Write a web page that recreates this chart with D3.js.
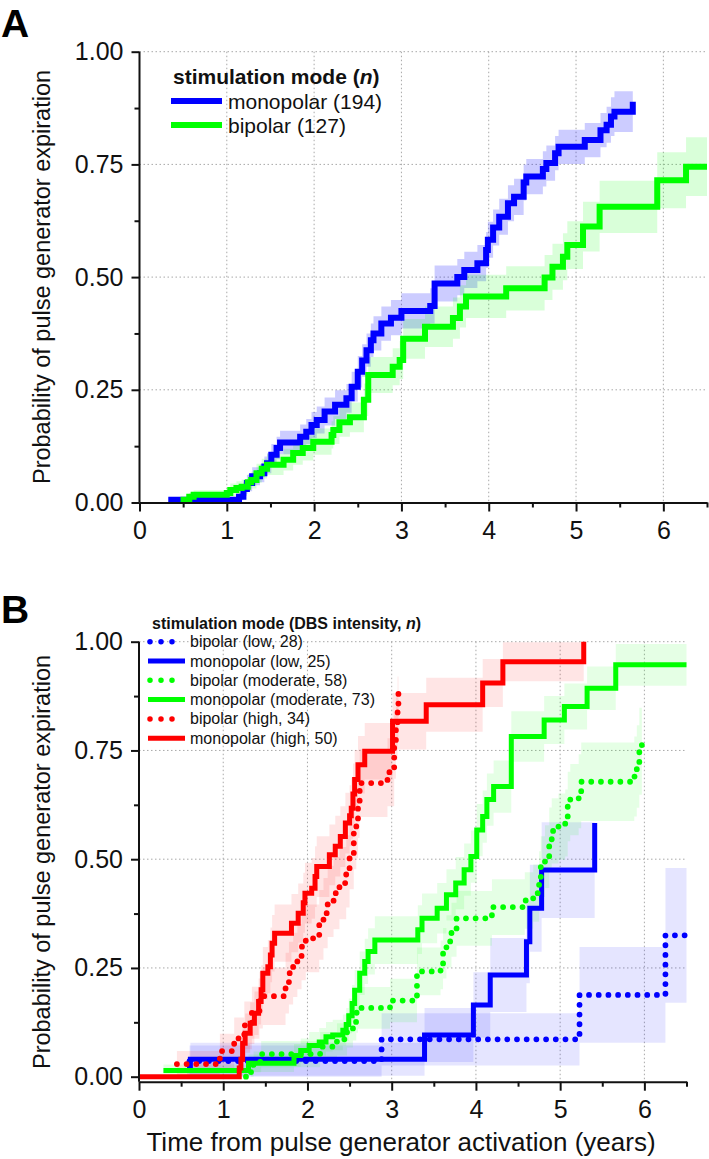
<!DOCTYPE html>
<html><head><meta charset="utf-8">
<script src="https://cdn.jsdelivr.net/npm/d3@7"></script>
<style>
body{margin:0;background:#fff;}
svg{display:block;font-family:"Liberation Sans",Arial,sans-serif;}
</style></head>
<body>
<script>
// ---------- DATA (time in years, probability, half-width of shaded band) ----------
const xTicks = [0,1,2,3,4,5,6];
const xMinorTicks = [0.5,1.5,2.5,3.5,4.5,5.5,6.5];
const yTicks = [0,0.25,0.5,0.75,1.0];
const yMinorTicks = [0.125,0.375,0.625,0.875];

const legendA = ["monopolar (194)","bipolar (127)"];
const legendB = ["bipolar (low, 28)","monopolar (low, 25)","bipolar (moderate, 58)","monopolar (moderate, 73)","bipolar (high, 34)","monopolar (high, 50)"];

const monoA = [[0.33,0.006,0.005],[1.14,0.013,0.008],[1.19,0.03,0.015],[1.23,0.043,0.018],[1.29,0.058,0.02],[1.38,0.065,0.02],[1.43,0.08,0.022],[1.46,0.087,0.022],[1.51,0.106,0.024],[1.57,0.121,0.025],[1.61,0.133,0.026],[1.84,0.146,0.027],[1.91,0.157,0.028],[1.97,0.172,0.029],[2.03,0.183,0.03],[2.12,0.202,0.031],[2.24,0.217,0.032],[2.37,0.231,0.032],[2.43,0.257,0.033],[2.50,0.29,0.035],[2.55,0.315,0.036],[2.60,0.338,0.037],[2.65,0.36,0.037],[2.68,0.375,0.038],[2.77,0.397,0.038],[2.88,0.41,0.039],[3.00,0.425,0.039],[3.33,0.436,0.039],[3.38,0.486,0.04],[3.64,0.50,0.04],[3.72,0.516,0.04],[3.87,0.531,0.04],[3.97,0.56,0.04],[3.99,0.583,0.04],[4.05,0.61,0.04],[4.12,0.634,0.04],[4.22,0.664,0.04],[4.29,0.678,0.04],[4.40,0.71,0.04],[4.43,0.723,0.039],[4.62,0.74,0.039],[4.66,0.753,0.039],[4.76,0.775,0.038],[4.80,0.789,0.038],[5.10,0.804,0.038],[5.28,0.826,0.038],[5.35,0.838,0.04],[5.40,0.856,0.043],[5.44,0.867,0.045],[5.65,0.889,0.045]];
const biA = [[0.47,0.006,0.005],[0.57,0.013,0.008],[0.62,0.017,0.01],[1.00,0.021,0.012],[1.04,0.028,0.014],[1.11,0.032,0.015],[1.17,0.035,0.016],[1.24,0.045,0.018],[1.28,0.05,0.019],[1.34,0.065,0.021],[1.40,0.075,0.022],[1.46,0.084,0.023],[1.65,0.095,0.024],[1.76,0.11,0.026],[1.87,0.121,0.028],[1.99,0.135,0.029],[2.20,0.15,0.03],[2.22,0.161,0.031],[2.29,0.178,0.032],[2.41,0.189,0.033],[2.57,0.228,0.036],[2.62,0.283,0.04],[2.90,0.301,0.041],[2.98,0.316,0.042],[3.02,0.363,0.044],[3.27,0.39,0.045],[3.59,0.409,0.046],[3.67,0.435,0.047],[3.74,0.457,0.048],[4.20,0.475,0.049],[4.64,0.499,0.05],[4.73,0.523,0.051],[4.85,0.545,0.052],[4.90,0.571,0.053],[5.08,0.612,0.055],[5.27,0.656,0.058],[5.93,0.715,0.062],[6.26,0.745,0.065],[6.50,0.745,0.065]];

const biLow = [[0.60,0.036,0.036],[2.88,0.086,0.06],[5.23,0.188,0.11],[6.25,0.325,0.155],[6.50,0.325,0.155]];
const monoLow = [[0.57,0.02,0.02],[0.61,0.04,0.038],[3.39,0.096,0.062],[3.97,0.165,0.075],[4.17,0.234,0.085],[4.60,0.31,0.095],[4.64,0.387,0.1],[4.78,0.475,0.11],[5.41,0.583,0.12]];
const biMod = [[1.27,0.0,0.0],[1.33,0.017,0.017],[1.36,0.034,0.024],[1.45,0.052,0.03],[2.15,0.069,0.034],[2.35,0.086,0.037],[2.47,0.107,0.04],[2.54,0.126,0.043],[2.58,0.147,0.046],[2.60,0.158,0.048],[2.98,0.175,0.05],[3.30,0.242,0.055],[3.58,0.257,0.056],[3.61,0.284,0.058],[3.65,0.311,0.06],[3.71,0.338,0.062],[3.77,0.364,0.063],[4.19,0.39,0.064],[4.58,0.405,0.065],[4.68,0.422,0.066],[4.75,0.45,0.068],[4.77,0.483,0.07],[4.82,0.506,0.072],[4.87,0.545,0.074],[4.90,0.565,0.075],[4.98,0.575,0.076],[5.06,0.583,0.077],[5.09,0.621,0.08],[5.12,0.637,0.082],[5.22,0.656,0.085],[5.25,0.678,0.09],[5.88,0.69,0.092],[5.91,0.713,0.095],[5.94,0.748,0.1],[5.97,0.771,0.1]];
const monoMod = [[0.29,0.014,0.014],[1.30,0.031,0.02],[1.84,0.049,0.026],[1.92,0.06,0.028],[2.02,0.072,0.031],[2.14,0.08,0.032],[2.22,0.092,0.034],[2.30,0.096,0.035],[2.42,0.107,0.036],[2.46,0.12,0.038],[2.49,0.14,0.04],[2.53,0.168,0.043],[2.56,0.199,0.046],[2.62,0.238,0.05],[2.68,0.265,0.052],[2.72,0.288,0.053],[2.80,0.314,0.055],[3.31,0.338,0.056],[3.36,0.364,0.057],[3.54,0.387,0.058],[3.65,0.418,0.059],[3.76,0.445,0.06],[3.86,0.476,0.06],[3.94,0.506,0.06],[4.01,0.567,0.06],[4.08,0.598,0.06],[4.13,0.637,0.06],[4.21,0.667,0.06],[4.42,0.782,0.058],[4.81,0.82,0.055],[5.05,0.851,0.053],[5.32,0.893,0.05],[5.66,0.947,0.048],[6.50,0.947,0.048]];
const biHigh = [[0.45,0.029,0.03],[0.96,0.059,0.04],[1.13,0.088,0.048],[1.25,0.118,0.055],[1.34,0.147,0.06],[1.43,0.176,0.065],[1.47,0.185,0.066],[1.74,0.215,0.07],[1.78,0.238,0.072],[1.83,0.257,0.074],[1.88,0.276,0.075],[1.93,0.299,0.077],[1.98,0.318,0.078],[2.14,0.349,0.08],[2.19,0.376,0.081],[2.24,0.403,0.082],[2.31,0.422,0.083],[2.38,0.445,0.083],[2.46,0.472,0.083],[2.50,0.514,0.083],[2.55,0.559,0.082],[2.58,0.583,0.081],[2.60,0.629,0.08],[2.62,0.675,0.078],[2.95,0.70,0.078],[3.03,0.76,0.075],[3.05,0.80,0.072],[3.07,0.85,0.07],[3.08,0.90,0.07]];
const monoHigh = [[0.00,0.0,0.0],[1.19,0.02,0.02],[1.21,0.04,0.03],[1.23,0.077,0.04],[1.26,0.10,0.045],[1.32,0.123,0.048],[1.37,0.146,0.05],[1.42,0.173,0.053],[1.45,0.20,0.056],[1.47,0.238,0.06],[1.53,0.253,0.061],[1.56,0.28,0.063],[1.58,0.307,0.065],[1.61,0.33,0.066],[1.81,0.353,0.067],[1.89,0.376,0.068],[1.95,0.40,0.069],[1.97,0.422,0.07],[2.05,0.433,0.07],[2.09,0.46,0.07],[2.11,0.483,0.07],[2.26,0.51,0.07],[2.33,0.53,0.07],[2.39,0.552,0.07],[2.45,0.583,0.07],[2.50,0.60,0.07],[2.52,0.617,0.07],[2.54,0.65,0.07],[2.56,0.683,0.068],[2.60,0.717,0.066],[2.68,0.748,0.065],[3.01,0.817,0.065],[3.41,0.855,0.062],[4.08,0.905,0.055],[4.32,0.954,0.045],[5.28,1.0,0.0]];

// ---------- STYLE ----------
const BLUE="#0000ff", GREEN="#00ff00", RED="#ff0000";
const W=709, H=1159;
const svg = d3.select("body").append("svg").attr("width",W).attr("height",H);

function panel(o){
  const {x,y,series,lw} = o;
  const g = svg.append("g");
  const [x0,x1] = x.range();
  const y0 = y.range()[0];
  // grid
  const grid = g.append("g").attr("stroke","#a8a8a8").attr("stroke-width",1).attr("stroke-dasharray","1.5,2.5");
  grid.selectAll(".gv").data(xTicks.slice(1)).join("line")
    .attr("x1",d=>x(d)).attr("x2",d=>x(d)).attr("y1",y(1)).attr("y2",y0);
  grid.selectAll(".gh").data(yTicks.slice(1)).join("line")
    .attr("y1",d=>y(d)).attr("y2",d=>y(d)).attr("x1",x0).attr("x2",x1);
  // bands
  const area = d3.area().curve(d3.curveStepAfter)
    .x(d=>x(d[0])).y0(d=>y(Math.max(0,d[1]-d[2]))).y1(d=>y(Math.min(1,d[1]+d[2])));
  series.forEach(s=>{
    g.append("path").datum(s.data).attr("d",area).attr("fill",s.color).attr("fill-opacity",s.bandOp||0.18);
  });
  // lines
  const line = d3.line().curve(d3.curveStepAfter).x(d=>x(d[0])).y(d=>y(d[1]));
  series.forEach(s=>{
    const p = g.append("path").datum(s.data).attr("d",line).attr("fill","none")
      .attr("stroke",s.color).attr("stroke-width",lw);
    if(s.dotted) p.attr("stroke-dasharray","0,9.7").attr("stroke-linecap","round").attr("stroke-width",lw+0.8);
  });
  // axes
  const ax = g.append("g").attr("transform",`translate(0,${y0})`);
  ax.call(d3.axisBottom(x).tickValues(xTicks).tickSize(9).tickSizeOuter(0).tickPadding(10).tickFormat(d3.format("d")));
  const axm = g.append("g").attr("transform",`translate(0,${y0})`);
  axm.call(d3.axisBottom(x).tickValues(xMinorTicks).tickSize(5).tickSizeOuter(0).tickFormat(""));
  axm.select(".domain").remove();
  const ay = g.append("g").attr("transform",`translate(${x0},0)`);
  ay.call(d3.axisLeft(y).tickValues(yTicks).tickSize(8).tickSizeOuter(0).tickPadding(8).tickFormat(d3.format(".2f")));
  const aym = g.append("g").attr("transform",`translate(${x0},0)`);
  aym.call(d3.axisLeft(y).tickValues(yMinorTicks).tickSize(5).tickSizeOuter(0).tickFormat(""));
  aym.select(".domain").remove();
  ay.select(".domain").attr("d",`M0,${y0}V${y(1)}`);
  g.selectAll(".domain, .tick line").attr("stroke","#111").attr("stroke-width",2);
  g.selectAll(".tick text").attr("font-size",25).attr("fill","#111").attr("font-family","Liberation Sans, Arial, sans-serif");
  return g;
}

// Panel A
const xA = d3.scaleLinear().domain([0,6.5]).range([139.5,707]);
const yA = d3.scaleLinear().domain([0,1]).range([502.5,51.7]);
panel({x:xA,y:yA,lw:6,series:[
  {data:monoA,color:BLUE,bandOp:0.2},
  {data:biA,color:GREEN,bandOp:0.15}
]});

// Panel B
const xB = d3.scaleLinear().domain([0,6.5]).range([139,686.5]);
const yB = d3.scaleLinear().domain([-0.0115,1]).range([1081.7,641.7]);
panel({x:xB,y:yB,lw:5,series:[
  {data:biLow,color:BLUE,dotted:true,bandOp:0.1},
  {data:monoLow,color:BLUE,bandOp:0.1},
  {data:biMod,color:GREEN,dotted:true,bandOp:0.1},
  {data:monoMod,color:GREEN,bandOp:0.1},
  {data:biHigh,color:RED,dotted:true,bandOp:0.1},
  {data:monoHigh,color:RED,bandOp:0.1}
]});

// Panel letters
svg.append("text").attr("x",1).attr("y",37).attr("font-size",39).attr("font-weight","bold").text("A");
svg.append("text").attr("x",1).attr("y",623).attr("font-size",39).attr("font-weight","bold").text("B");

// Axis titles
const ytitle="Probability of pulse generator expiration";
[277,862].forEach(cy=>{
  svg.append("text").attr("transform",`translate(50,${cy}) rotate(-90)`).attr("text-anchor","middle")
    .attr("font-size",23.5).attr("fill","#111").text(ytitle);
});
svg.append("text").attr("x",401).attr("y",1151).attr("text-anchor","middle").attr("font-size",26).attr("fill","#111")
  .text("Time from pulse generator activation (years)");

// Legend A
const la = svg.append("g");
const ta = la.append("text").attr("x",173).attr("y",84).attr("font-size",21).attr("font-weight","bold").attr("fill","#111");
ta.append("tspan").text("stimulation mode (");
ta.append("tspan").attr("font-style","italic").text("n");
ta.append("tspan").text(")");
[[BLUE,101],[GREEN,125]].forEach(([c,cy],i)=>{
  la.append("line").attr("x1",171).attr("x2",222).attr("y1",cy).attr("y2",cy).attr("stroke",c).attr("stroke-width",6);
  la.append("text").attr("x",228).attr("y",cy+7.5).attr("font-size",21).attr("fill","#111").text(legendA[i]);
});

// Legend B
const lb = svg.append("g");
const tb = lb.append("text").attr("x",152).attr("y",629).attr("font-size",16).attr("font-weight","bold").attr("fill","#111");
tb.append("tspan").text("stimulation mode (DBS intensity, ");
tb.append("tspan").attr("font-style","italic").text("n");
tb.append("tspan").text(")");
const legCols=[BLUE,BLUE,GREEN,GREEN,RED,RED];
legendB.forEach((t,i)=>{
  const cy = 641.7 + i*19.3;
  const l = lb.append("line").attr("x1",i%2===0?150:148).attr("x2",i%2===0?183:185).attr("y1",cy).attr("y2",cy)
    .attr("stroke",legCols[i]).attr("stroke-width",5);
  if(i%2===0) l.attr("stroke-dasharray","0,11").attr("stroke-linecap","round").attr("stroke-width",5.5);
  lb.append("text").attr("x",190).attr("y",cy+5.5).attr("font-size",16).attr("fill","#111").text(t);
});
</script>
</body></html>
